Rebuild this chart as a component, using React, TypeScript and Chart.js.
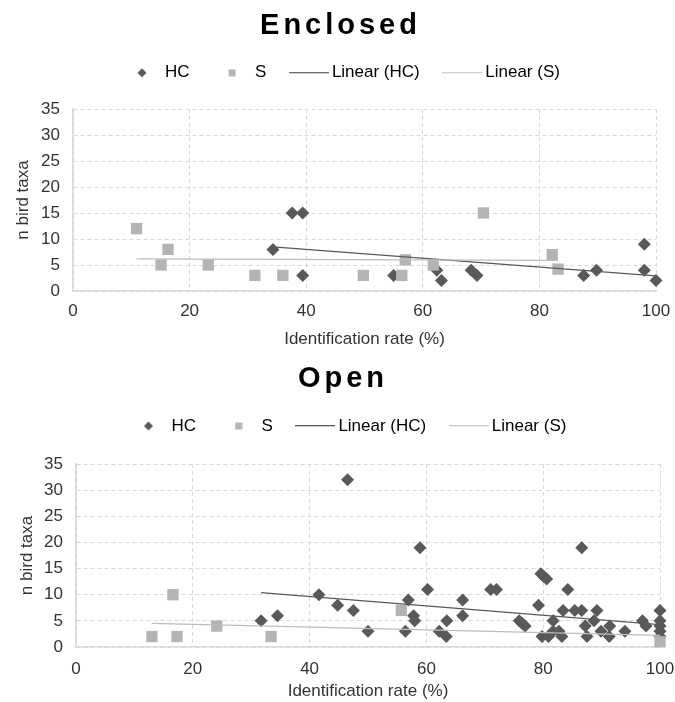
import React, { useEffect, useRef } from "react";
import { Chart, registerables } from "chart.js";

Chart.register(...registerables);

const FONT = '"Liberation Sans", Arial, Helvetica, sans-serif';

// ---------- labels ----------
const PANEL_TITLES = ["Enclosed", "Open"];
const SERIES_NAMES = ["HC", "S", "Linear (HC)", "Linear (S)"];
const X_TITLE = "Identification rate (%)";
const Y_TITLE = "n bird taxa";
const X_TICKS = [0, 20, 40, 60, 80, 100];
const Y_TICKS = [0, 5, 10, 15, 20, 25, 30, 35];

// ---------- Enclosed ----------
const ENC_HC_X = [34.3, 37.6, 39.4, 39.4, 55, 62.4, 63.2, 68.3, 69.3, 87.6, 89.8, 98, 98, 100];
const ENC_HC_Y = [8, 15, 15, 3, 3, 4, 2, 4, 3, 3, 4, 9, 4, 2];
const ENC_S_X = [10.9, 15.1, 16.3, 23.2, 31.2, 36, 49.8, 56.4, 57, 61.8, 70.4, 82.2, 83.2];
const ENC_S_Y = [12, 5, 8, 5, 3, 3, 3, 3, 6, 5, 15, 7, 4.2];
const ENC_HC_TREND_X = [34.3, 100];
const ENC_HC_TREND_Y = [8.5, 2.9];
const ENC_S_TREND_X = [10.9, 83.2];
const ENC_S_TREND_Y = [6.2, 5.9];

// ---------- Open ----------
const OPEN_HC_X = [31.7, 34.5, 41.6, 44.8, 46.5, 47.5, 50, 56.4, 56.9, 57.8, 58, 58.9, 60.2, 62.2, 63.4, 63.5, 66.2, 66.2, 71, 72, 75.9, 76.4, 76.9, 79.2, 79.6, 80.1, 80.6, 79.8, 80.9, 81.7, 81.7, 82.7, 83.2, 83.4, 84.2, 85.4, 86.6, 86.6, 87.2, 87.5, 88.7, 89.2, 89.9, 91.3, 91.4, 94, 97, 97.6, 100, 100, 100, 100, 100];
const OPEN_HC_Y = [5, 6, 10, 8, 32, 7, 3, 3, 9, 6, 5, 19, 11, 3, 2, 5, 9, 6, 11, 11, 5, 4.5, 4, 8, 14, 13.5, 13, 2, 2, 5, 3, 3, 2, 7, 11, 7, 7, 19, 4, 2, 5, 7, 3, 2, 4, 3, 5, 4, 7, 5, 4, 3, 2];
const OPEN_S_X = [13, 16.6, 17.3, 24.1, 33.4, 55.7, 100];
const OPEN_S_Y = [2, 10, 2, 4, 2, 7, 1];
const OPEN_HC_TREND_X = [31.7, 100];
const OPEN_HC_TREND_Y = [10.4, 4.3];
const OPEN_S_TREND_X = [13, 100];
const OPEN_S_TREND_Y = [4.5, 2.2];

// ---------- styles ----------
const HC_COLOR = "#595959";
const S_COLOR = "#b4b4b4";
const S_LINE_COLOR = "#bdbdbd";
const GRID_COLOR = "#d9d9d9";
const TEXT_COLOR = "#333333";

const toPts = (xs: number[], ys: number[]) => xs.map((x, i) => ({ x, y: ys[i] }));

function makeMarker(kind: string): HTMLCanvasElement {
  const c = document.createElement("canvas");
  const ctx = c.getContext("2d")!;
  if (kind === "diamond") {
    c.width = 10; c.height = 10;
    ctx.fillStyle = HC_COLOR;
    ctx.beginPath();
    ctx.moveTo(5, 0.5); ctx.lineTo(9.5, 5); ctx.lineTo(5, 9.5); ctx.lineTo(0.5, 5);
    ctx.closePath(); ctx.fill();
  } else if (kind === "square") {
    c.width = 8; c.height = 8;
    ctx.fillStyle = S_COLOR;
    ctx.fillRect(0.5, 0.5, 7, 7);
  } else {
    c.width = 40; c.height = 2;
    ctx.fillStyle = kind === "lineHC" ? HC_COLOR : "#c8c8c8";
    ctx.fillRect(0, 0, 40, 1.3);
  }
  return c;
}

const panelPlugin = {
  id: "panelDeco",
  afterLayout(chart: any, _a: any, opts: any) {
    const lg = chart.legend;
    if (lg) {
      const w = lg.right - lg.left;
      const h = lg.bottom - lg.top;
      lg.left = opts.legendLeft; lg.right = opts.legendLeft + w;
      lg.top = opts.legendTop; lg.bottom = opts.legendTop + h;
    }
  },
  afterDraw(chart: any, _a: any, opts: any) {
    const ctx = chart.ctx;
    ctx.save();
    ctx.font = `bold ${opts.titleSize}px ${FONT}`;
    ctx.fillStyle = "#000";
    ctx.textAlign = "center";
    ctx.textBaseline = "middle";
    (ctx as any).letterSpacing = opts.letterSpacing + "px";
    ctx.fillText(opts.title, opts.titleX, opts.titleY);
    ctx.restore();
  },
};

interface Panel {
  title: string;
  hcX: number[]; hcY: number[]; sX: number[]; sY: number[];
  hcTX: number[]; hcTY: number[]; sTX: number[]; sTY: number[];
  height: number;
  padTop: number; padRight: number;
  yWidth: number; xHeight: number;
  xTickPad: number; yTickPad: number;
  yTitlePad: number; xTitlePad: number;
  legendLeft: number; legendTop: number;
  titleX: number; titleY: number;
}

const PANELS: Panel[] = [
  {
    title: PANEL_TITLES[0],
    hcX: ENC_HC_X, hcY: ENC_HC_Y, sX: ENC_S_X, sY: ENC_S_Y,
    hcTX: ENC_HC_TREND_X, hcTY: ENC_HC_TREND_Y, sTX: ENC_S_TREND_X, sTY: ENC_S_TREND_Y,
    height: 352, padTop: 54, padRight: 19, yWidth: 73, xHeight: 61,
    xTickPad: 10, yTickPad: 13, yTitlePad: 13, xTitlePad: 2.3,
    legendLeft: 99.5, legendTop: 36.3, titleX: 340.5, titleY: 26,
  },
  {
    title: PANEL_TITLES[1],
    hcX: OPEN_HC_X, hcY: OPEN_HC_Y, sX: OPEN_S_X, sY: OPEN_S_Y,
    hcTX: OPEN_HC_TREND_X, hcTY: OPEN_HC_TREND_Y, sTX: OPEN_S_TREND_X, sTY: OPEN_S_TREND_Y,
    height: 350, padTop: 57, padRight: 15, yWidth: 76, xHeight: 55,
    xTickPad: 12, yTickPad: 13, yTitlePad: 17, xTitlePad: 0,
    legendLeft: 106, legendTop: 37.5, titleX: 343, titleY: 27,
  },
];

function ScatterPanel({ p }: { p: Panel }) {
  const ref = useRef<HTMLCanvasElement | null>(null);
  useEffect(() => {
    if (!ref.current) return;
    const markers = [makeMarker("diamond"), makeMarker("square"), makeMarker("lineHC"), makeMarker("lineS")];
    const chart = new Chart(ref.current, {
      type: "scatter",
      data: {
        datasets: [
          {
            label: SERIES_NAMES[0], data: toPts(p.hcX, p.hcY),
            pointStyle: "rectRot", pointRadius: 6.5, pointHoverRadius: 6.5,
            pointBackgroundColor: HC_COLOR, pointBorderColor: HC_COLOR, pointBorderWidth: 0,
            backgroundColor: HC_COLOR, order: 3, clip: false,
          },
          {
            label: SERIES_NAMES[1], data: toPts(p.sX, p.sY),
            pointStyle: "rect", pointRadius: 8, pointHoverRadius: 8,
            pointBackgroundColor: S_COLOR, pointBorderColor: S_COLOR, pointBorderWidth: 0,
            backgroundColor: S_COLOR, order: 2, clip: false,
          },
          {
            label: SERIES_NAMES[2], data: toPts(p.hcTX, p.hcTY), showLine: true,
            pointRadius: 0, borderColor: HC_COLOR, borderWidth: 1.25, order: 1,
          },
          {
            label: SERIES_NAMES[3], data: toPts(p.sTX, p.sTY), showLine: true,
            pointRadius: 0, borderColor: S_LINE_COLOR, borderWidth: 1.25, order: 0,
          },
        ],
      } as any,
      options: {
        responsive: false,
        animation: false,
        events: [],
        layout: { padding: { top: p.padTop, left: 0, right: p.padRight, bottom: 0 } },
        plugins: {
          tooltip: { enabled: false },
          title: { display: false },
          legend: {
            display: true,
            position: "top",
            align: "start",
            labels: {
              usePointStyle: true,
              pointStyleWidth: 29,
              padding: 28,
              color: "#262626",
              font: { family: FONT, size: 17 },
              generateLabels: () =>
                SERIES_NAMES.map((name, i) => ({
                  text: name,
                  pointStyle: markers[i],
                  fillStyle: "transparent",
                  strokeStyle: "transparent",
                  lineWidth: 0,
                  hidden: false,
                  datasetIndex: i,
                })),
            },
          },
          panelDeco: {
            title: p.title, titleSize: 29, letterSpacing: 4,
            titleX: p.titleX, titleY: p.titleY,
            legendLeft: p.legendLeft, legendTop: p.legendTop,
          },
        } as any,
        scales: {
          x: {
            type: "linear",
            min: 0, max: 100,
            afterBuildTicks: (s: any) => { s.ticks = X_TICKS.map((v) => ({ value: v })); },
            afterFit: (s: any) => { s.height = p.xHeight; s.paddingLeft = 0; s.paddingRight = 0; },
            grid: { color: GRID_COLOR, lineWidth: 1, drawTicks: false },
            border: { display: true, color: GRID_COLOR, width: 1.5, dash: [4, 3] },
            ticks: { padding: p.xTickPad, color: TEXT_COLOR, font: { family: FONT, size: 17 }, maxRotation: 0 },
            title: {
              display: true, text: X_TITLE, color: TEXT_COLOR,
              font: { family: FONT, size: 17 }, padding: { top: 0, bottom: p.xTitlePad },
            },
          },
          y: {
            type: "linear",
            min: 0, max: 35,
            afterBuildTicks: (s: any) => { s.ticks = Y_TICKS.map((v) => ({ value: v })); },
            afterFit: (s: any) => { s.width = p.yWidth; s.paddingTop = 0; s.paddingBottom = 0; },
            grid: { color: GRID_COLOR, lineWidth: 1, drawTicks: false },
            border: { display: true, color: GRID_COLOR, width: 1.5, dash: [4, 3] },
            ticks: { padding: p.yTickPad, color: TEXT_COLOR, font: { family: FONT, size: 17 } },
            title: {
              display: true, text: Y_TITLE, color: TEXT_COLOR,
              font: { family: FONT, size: 17 }, padding: { top: p.yTitlePad, bottom: 0 },
            },
          },
        } as any,
      },
      plugins: [panelPlugin as any],
    });
    return () => chart.destroy();
  }, [p]);
  return <canvas ref={ref} width={675} height={p.height} style={{ display: "block", width: 675, height: p.height }} />;
}

export default function App() {
  return (
    <div style={{ position: "absolute", left: 0, top: 0, width: 675, height: 702, background: "#fff" }}>
      {PANELS.map((p, i) => (
        <ScatterPanel key={i} p={p} />
      ))}
    </div>
  );
}
